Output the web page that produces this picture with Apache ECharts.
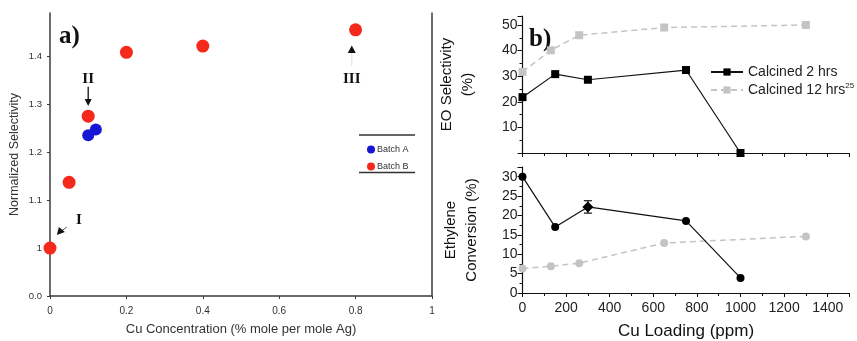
<!DOCTYPE html>
<html><head><meta charset="utf-8">
<script src="https://cdn.jsdelivr.net/npm/echarts@6/dist/echarts.min.js"></script>
<style>html,body{margin:0;padding:0;background:#fff}#c{width:857px;height:341px}</style>
</head><body><div id="c"></div>
<script>
// Panel a: normalized selectivity vs Cu concentration
const cuConcA = [0.1, 0.12];
const selNormA = [1.235, 1.247];
const cuConcB = [0, 0.05, 0.1, 0.2, 0.4, 0.8];
const selNormB = [1.0, 1.137, 1.275, 1.408, 1.421, 1.455];

// Panel b: EO selectivity and ethylene conversion vs Cu loading
const cuPpm2h = [0, 150, 300, 750, 1000];
const eoSel2h = [21.8, 30.8, 28.6, 32.4, 0];
const conv2h = [30, 17, 22.2, 18.6, 3.9];
const conv2hErr = [0, 0, 1.6, 0, 0];
const cuPpm12h = [0, 130, 260, 650, 1300];
const eoSel12h = [31.7, 40.1, 46, 49, 50];
const conv12h = [6.3, 6.9, 7.7, 12.9, 14.6];

const zip = (xs, ys) => xs.map((x, i) => [x, ys[i]]);
const SANS = 'Liberation Sans, Arial, sans-serif';
const SERIF = 'Liberation Serif, DejaVu Serif, serif';
const GRAY = '#c4c4c4';

const chart = echarts.init(document.getElementById('c'));

const axisA = { lineStyle: { color: '#3a3a3a', width: 1.5 } };
const axisB = { lineStyle: { color: '#111', width: 1.2 } };

chart.setOption({
  animation: false,
  grid: [
    { left: 50, top: 13, right: 425, bottom: 43 },
    { left: 522.5, top: 16, right: 7.5, bottom: 188 },
    { left: 522.5, top: 167, right: 7.5, bottom: 47.7 }
  ],
  xAxis: [
    {
      gridIndex: 0, type: 'value', min: 0, max: 1, interval: 0.2,
      splitLine: { show: false }, axisLine: axisA,
      axisTick: { length: 3, lineStyle: { color: '#3a3a3a' } },
      axisLabel: { fontSize: 10, color: '#333', fontFamily: SANS, margin: 10,
        formatter: v => (Math.abs(v - 1) < 1e-6 || v === 0) ? String(Math.round(v)) : v.toFixed(1) },
      name: 'Cu Concentration (% mole per mole Ag)', nameLocation: 'middle', nameGap: 27,
      nameTextStyle: { fontSize: 13, color: '#333', fontFamily: SANS }
    },
    {
      gridIndex: 1, type: 'value', min: 0, max: 1500, interval: 200,
      splitLine: { show: false }, axisLine: axisB,
      axisTick: { length: 4, lineStyle: { color: '#111' } },
      minorTick: { show: true, splitNumber: 2, length: 3, lineStyle: { color: '#111' } },
      axisLabel: { show: false }
    },
    {
      gridIndex: 2, type: 'value', min: 0, max: 1500, interval: 200,
      splitLine: { show: false }, axisLine: axisB,
      axisTick: { length: 4, lineStyle: { color: '#111' } },
      minorTick: { show: true, splitNumber: 2, length: 3, lineStyle: { color: '#111' } },
      axisLabel: { fontSize: 14, color: '#222', fontFamily: SANS, margin: 8, showMaxLabel: false,
        formatter: v => String(v) },
      name: 'Cu Loading (ppm)', nameLocation: 'middle', nameGap: 30,
      nameTextStyle: { fontSize: 17, color: '#111', fontFamily: SANS }
    }
  ],
  yAxis: [
    {
      gridIndex: 0, type: 'value', min: 0.9, max: 1.49, interval: 0.1,
      splitLine: { show: false }, axisLine: axisA,
      axisTick: { length: 3, lineStyle: { color: '#3a3a3a' } },
      axisLabel: { fontSize: 9.5, color: '#333', fontFamily: SANS, margin: 8, showMaxLabel: false,
        formatter: v => Math.abs(v - 0.9) < 1e-6 ? '0.0' : (Math.abs(v - 1) < 1e-6 ? '1' : v.toFixed(1)) },
      name: 'Normalized Selectivity', nameLocation: 'middle', nameGap: 29,
      nameTextStyle: { fontSize: 12.5, color: '#333', fontFamily: SANS }
    },
    {
      gridIndex: 0, type: 'value', position: 'right', min: 0.9, max: 1.49,
      splitLine: { show: false }, axisLine: { show: true, lineStyle: { color: '#3a3a3a', width: 1.5 } },
      axisTick: { show: false }, axisLabel: { show: false }
    },
    {
      gridIndex: 1, type: 'value', min: 0, max: 53.5, interval: 10,
      splitLine: { show: false }, axisLine: axisB,
      axisTick: { length: 5, lineStyle: { color: '#111' } },
      minorTick: { show: true, splitNumber: 2, length: 3, lineStyle: { color: '#111' } },
      axisLabel: { fontSize: 14, color: '#222', fontFamily: SANS, margin: 5, showMinLabel: false },
      name: 'EO Selectivity\n(%)', nameLocation: 'middle', nameGap: 44,
      nameTextStyle: { fontSize: 15, color: '#111', fontFamily: SANS, lineHeight: 21 }
    },
    {
      gridIndex: 2, type: 'value', min: 0, max: 32.5, interval: 5,
      splitLine: { show: false }, axisLine: axisB,
      axisTick: { length: 5, lineStyle: { color: '#111' } },
      minorTick: { show: true, splitNumber: 2, length: 3, lineStyle: { color: '#111' } },
      axisLabel: { fontSize: 14, color: '#222', fontFamily: SANS, margin: 5 },
      name: 'Ethylene\nConversion (%)', nameLocation: 'middle', nameGap: 40,
      nameTextStyle: { fontSize: 15, color: '#111', fontFamily: SANS, lineHeight: 21 }
    }
  ],
  legend: [
    {
      data: ['Calcined 2 hrs', 'Calcined 12 hrs'], orient: 'vertical',
      left: 705, top: 60, itemWidth: 32, itemHeight: 9, itemGap: 3,
      textStyle: { fontSize: 14, color: '#222', fontFamily: SANS,
        rich: { sup: { fontSize: 8, verticalAlign: 'top', padding: [0, 0, 8, 0], color: '#222' } } },
      formatter: n => n === 'Calcined 12 hrs' ? n + '{sup|25}' : n
    },
    {
      data: ['Batch A', 'Batch B'], orient: 'vertical', icon: 'circle',
      left: 362, top: 140, itemWidth: 8, itemHeight: 8, itemGap: 8,
      textStyle: { fontSize: 9, color: '#333', fontFamily: SANS, padding: [0, 0, 0, -3] }
    }
  ],
  series: [
    { name: 'Batch A', type: 'scatter', xAxisIndex: 0, yAxisIndex: 0,
      data: zip(cuConcA, selNormA), symbolSize: 12, itemStyle: { color: '#1616d4', opacity: 1 } },
    { name: 'Batch B', type: 'scatter', xAxisIndex: 0, yAxisIndex: 0,
      data: zip(cuConcB, selNormB), symbolSize: 13, itemStyle: { color: '#f5281c', opacity: 1 } },
    { name: 'Calcined 2 hrs', type: 'line', xAxisIndex: 1, yAxisIndex: 2,
      data: zip(cuPpm2h, eoSel2h), symbol: 'rect', symbolSize: 8, z: 5,
      itemStyle: { color: '#000' }, lineStyle: { color: '#111', width: 1.2 } },
    { name: 'Calcined 12 hrs', type: 'line', xAxisIndex: 1, yAxisIndex: 2,
      data: zip(cuPpm12h, eoSel12h), symbol: 'rect', symbolSize: 8,
      itemStyle: { color: GRAY }, lineStyle: { color: GRAY, width: 1.5, type: [6, 4] } },
    { name: 'Calcined 2 hrs', type: 'line', xAxisIndex: 2, yAxisIndex: 3,
      data: zip(cuPpm2h, conv2h).map((p, i) => i === 2 ? { value: p, symbol: 'diamond', symbolSize: 11 } : p),
      symbol: 'circle', symbolSize: 8, z: 5,
      itemStyle: { color: '#000' }, lineStyle: { color: '#111', width: 1.2 } },
    { name: 'Calcined 12 hrs', type: 'line', xAxisIndex: 2, yAxisIndex: 3,
      data: zip(cuPpm12h, conv12h), symbol: 'circle', symbolSize: 8,
      itemStyle: { color: GRAY }, lineStyle: { color: GRAY, width: 1.5, type: [6, 4] } },
    { name: 'errors', type: 'custom', xAxisIndex: 2, yAxisIndex: 3, z: 6,
      data: cuPpm2h.map((x, i) => [x, conv2h[i], conv2hErr[i]]).filter(d => d[2] > 0),
      renderItem: (params, api) => {
        const lo = api.coord([api.value(0), api.value(1) - api.value(2)]);
        const hi = api.coord([api.value(0), api.value(1) + api.value(2)]);
        const w = 4;
        const st = { stroke: '#111', lineWidth: 1.2 };
        return { type: 'group', children: [
          { type: 'line', shape: { x1: lo[0], y1: lo[1], x2: hi[0], y2: hi[1] }, style: st },
          { type: 'line', shape: { x1: lo[0] - w, y1: lo[1], x2: lo[0] + w, y2: lo[1] }, style: st },
          { type: 'line', shape: { x1: hi[0] - w, y1: hi[1], x2: hi[0] + w, y2: hi[1] }, style: st }
        ] };
      } }
  ]
});

// Annotations for panel a, placed through the panel's own axes
const P = (x, y) => chart.convertToPixel({ gridIndex: 0 }, [x, y]);
const roman = (txt, p) => ({ type: 'text', x: p[0], y: p[1],
  style: { text: txt, fontSize: 15, fontWeight: 'bold', fontFamily: SERIF, fill: '#111',
    align: 'center', verticalAlign: 'middle' } });

const pII = P(0.1, 1.352), aII0 = P(0.1, 1.336), aII1 = P(0.1, 1.296);
const pIII = P(0.79, 1.352), tIII = P(0.79, 1.414), lIII = P(0.79, 1.38);
const pI = P(0.076, 1.058), aI = P(0.018, 1.027);

const graphics = [
  { type: 'text', left: 59, top: 24,
    style: { text: 'a)', fontSize: 25, fontWeight: 'bold', fontFamily: SERIF, fill: '#111' } },
  { type: 'text', left: 529, top: 27,
    style: { text: 'b)', fontSize: 25, fontWeight: 'bold', fontFamily: SERIF, fill: '#111' } },
  roman('II', pII),
  { type: 'line', shape: { x1: aII0[0], y1: aII0[1], x2: aII1[0], y2: aII1[1] - 5 },
    style: { stroke: '#111', lineWidth: 1.3 } },
  { type: 'polygon', shape: { points: [[aII1[0] - 3.5, aII1[1] - 7], [aII1[0] + 3.5, aII1[1] - 7], [aII1[0], aII1[1]]] },
    style: { fill: '#111' } },
  roman('III', pIII),
  { type: 'line', shape: { x1: tIII[0], y1: tIII[1] + 3, x2: lIII[0], y2: lIII[1] },
    style: { stroke: '#ddd', lineWidth: 1 } },
  { type: 'polygon', shape: { points: [[tIII[0] - 4, tIII[1] + 3.5], [tIII[0] + 4, tIII[1] + 3.5], [tIII[0], tIII[1] - 4]] },
    style: { fill: '#111' } },
  roman('I', pI),
  { type: 'line', shape: { x1: aI[0] + 3, x2: aI[0] + 10, y1: aI[1] - 3, y2: aI[1] - 8 },
    style: { stroke: '#555', lineWidth: 1 } },
  { type: 'polygon', shape: { points: [[aI[0], aI[1]], [aI[0] + 2, aI[1] - 8], [aI[0] + 8, aI[1] - 3]] },
    style: { fill: '#111' } },
  // rules above and below the panel a legend
  { type: 'line', shape: { x1: 359, y1: 135, x2: 415, y2: 135 }, style: { stroke: '#333', lineWidth: 1.3 } },
  { type: 'line', shape: { x1: 359, y1: 172.5, x2: 415, y2: 172.5 }, style: { stroke: '#333', lineWidth: 1.3 } }
];
chart.setOption({ graphic: graphics });
</script>
</body></html>
